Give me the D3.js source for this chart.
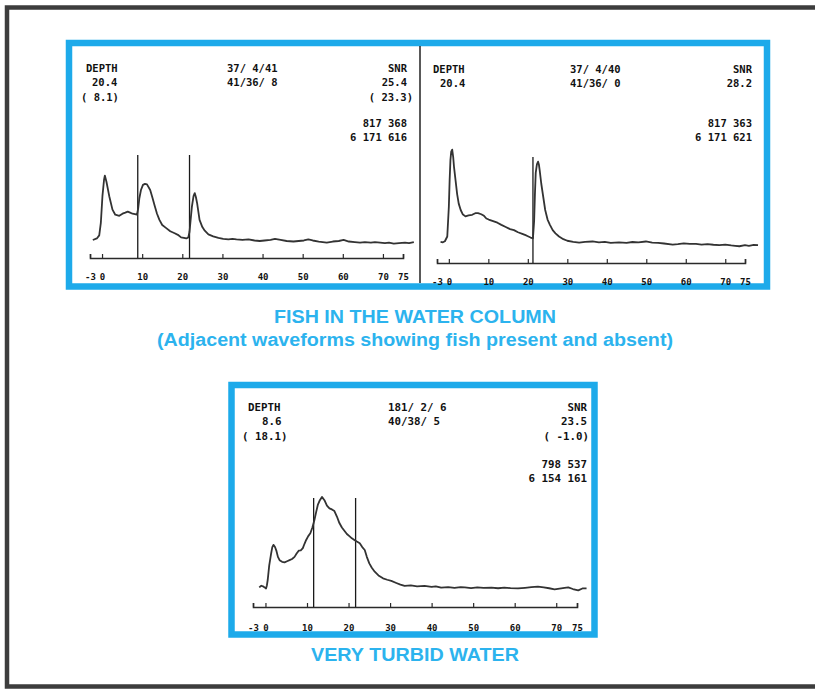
<!DOCTYPE html>
<html>
<head>
<meta charset="utf-8">
<script src="https://cdn.jsdelivr.net/npm/d3@7"></script>
<style>
  html, body { margin: 0; padding: 0; background: #fff; }
  svg { display: block; }
</style>
</head>
<body>
<div id="chart"></div>
<script>
// ---- data ----
// axis: range -3 .. 75, labelled ticks
const tickValues = [-3, 0, 10, 20, 30, 40, 50, 60, 70, 75];
const tickLabels = ["-3", "0", "10", "20", "30", "40", "50", "60", "70", "75"];

// waveform 1: fish present (x = range, v = echo amplitude)
const waveFishPresent = [
  [-2.3,17.5],[-1.3,19],[-0.7,22],[-0.3,34],[0.1,60],[0.5,76],[0.7,80],[1.1,74],[1.8,60],[2.6,47],
  [3.3,42],[4.3,41],[5.1,43],[5.8,44],[6.4,45],[7.0,44],[7.6,43],[8.2,42.5],[8.7,42],[9.0,48],
  [9.3,58],[9.7,66],[10.2,71],[10.7,72],[11.2,71.5],[12.0,66],[12.6,58],[13.1,51],[13.7,43],[14.3,37],
  [15.0,32],[16.0,29],[17.0,26],[18.1,24],[18.9,22.5],[19.7,20],[20.4,19.5],[21.0,19],[21.5,20],[21.8,25.5],
  [22.1,38],[22.4,50],[22.8,60],[23.1,63],[23.4,59],[23.7,53],[24.3,37],[25.0,30],[25.6,26.5],[26.5,23],
  [27.7,21],[29.0,19.5],[30.2,18.5],[31.5,18],[32.5,18.5],[33.5,18],[35,17.5],[36.5,18],[38,17],[39.3,16.5],
  [40.5,17],[42,17.5],[43.1,18.5],[44.5,17.5],[46,16.5],[47.7,16],[49,16.5],[50.3,17],[51.4,18],[52.5,17],
  [54,16],[55,15.5],[56,15],[57.5,16],[59,16.5],[60.2,17.5],[61.5,16],[63,15.5],[64.3,15],[65.5,15.5],
  [67,15],[68,15.5],[69.3,15],[70.5,14.5],[71.5,15],[72.7,14],[74,14.5],[75.5,15],[76.5,14.5],[77.7,15.5]
];

// waveform 2: fish absent
const waveFishAbsent = [
  [-2.1,20],[-1.5,19.5],[-1.0,20.5],[-0.4,25],[0,53],[0.2,78],[0.4,97],[0.6,105],[0.85,107],[1.1,100],
  [1.3,91],[1.7,78],[2.1,65],[2.5,56],[3.0,50],[3.5,46],[4.2,44],[5.0,45],[5.9,45.5],[6.7,47],
  [7.4,47],[8.2,46],[8.9,44.5],[9.5,42],[10.1,41],[11.2,39.5],[12.3,38],[13.3,36],[14.4,34],[15.5,32],
  [16.5,31],[17.5,29],[18.6,27.5],[19.6,26],[20.7,24],[21.3,23.3],[21.6,40],[21.8,65],[22.0,85],[22.3,93],
  [22.6,95.6],[22.8,93],[23.0,87.7],[23.4,75],[23.9,62.5],[24.4,50],[25.0,41],[25.6,36],[26.3,31],[27.0,28],
  [27.9,25],[29.0,22.5],[30.0,21],[31.5,20],[33.0,19.2],[34.5,20],[36.4,20.3],[38,19.5],[39.5,20],[41,19],
  [43.1,19.4],[45,19],[46.5,19.8],[48,19.5],[49.9,20.3],[51.5,19.3],[53,19],[54.5,18.4],[56.7,17.4],[58,17.8],
  [59.5,18.5],[61,18],[62.6,18],[64,17.3],[65.5,17.8],[67,17.2],[68.5,16.8],[70,17.4],[71.5,16.6],[72.5,16.2],
  [73.6,15.8],[75,16.8],[76,16.2],[77.2,17],[78.3,16.8]
];

// waveform 3: very turbid water
const waveTurbid = [
  [-1.5,18],[-1.0,19.5],[-0.6,19],[-0.2,18],[0.14,17],[0.35,20],[0.55,25],[0.9,38],[1.36,49],[1.65,55],
  [1.92,57],[2.3,55],[2.6,52],[3.0,46],[3.4,43],[4.0,41.5],[4.6,41],[5.2,42],[5.8,43],[6.4,44],
  [7.0,46],[7.5,49],[8.0,51.7],[8.5,52],[9.0,54],[9.4,58],[9.8,61.5],[10.3,65],[10.8,67.6],[11.3,73],
  [11.8,80],[12.2,87],[12.6,93.6],[13.1,98],[13.6,101],[14.2,98],[14.8,93],[15.4,90.5],[16.0,89.5],[16.6,88],
  [17.2,83],[17.8,77],[18.4,73],[19.0,70],[19.6,67],[20.2,65],[20.8,63],[21.4,61.5],[22.0,60],[22.7,58.4],
  [23.3,55],[23.9,52.3],[24.4,46],[25.0,40],[25.6,36],[26.3,32.4],[27.2,29],[28.3,26.3],[29.3,25],[30.3,23.9],
  [31.5,22],[32.5,20.5],[33.5,19.3],[35,19.8],[36.5,19],[38.3,19.3],[40,18.5],[41,19],[42.3,17.7],[44,18.2],
  [45.5,17.6],[47,18.3],[48,18],[49.5,17.4],[51,18],[52.5,17.5],[54.4,17.7],[56,17.2],[57.5,17.8],[59,17.3],
  [60.8,17],[62.5,17.6],[64,18.2],[65.6,18.7],[67,18],[68.3,17.2],[69.6,16.2],[70.8,16.8],[72,17.5],[72.9,18],
  [74,16.5],[75.3,15.3],[76.3,17],[77.3,17]
];

// range-gate markers (x positions)
const markersPresent = [8.9, 21.8];
const markersAbsent = [21.3];
const markersTurbid = [11.6, 21.7];

// header readouts: [left block, centre block, right block, right lower block]
const headerPresent = [["DEPTH", "20.4", "( 8.1)"], ["37/ 4/41", "41/36/ 8"], ["SNR", "25.4", "( 23.3)"], ["817 368", "6 171 616"]];
const headerAbsent  = [["DEPTH", "20.4"], ["37/ 4/40", "41/36/ 0"], ["SNR", "28.2"], ["817 363", "6 171 621"]];
const headerTurbid  = [["DEPTH", "8.6", "( 18.1)"], ["181/ 2/ 6", "40/38/ 5"], ["SNR", "23.5", "( -1.0)"], ["798 537", "6 154 161"]];

const captionTop = ["FISH IN THE WATER COLUMN", "(Adjacent waveforms showing fish present and absent)"];
const captionBottom = ["VERY TURBID WATER"];

// ---- drawing ----
const W = 815, H = 690;
const blue = "#1daaea";
const captionBlue = "#2cb3ee";
const ink = "#2a2a2a";
const mono = "'DejaVu Sans Mono', 'Liberation Mono', monospace";

const svg = d3.select("#chart").append("svg").attr("width", W).attr("height", H);

// outer dark frame (open on the right)
svg.append("path")
  .attr("d", "M815,7.5 H7 V686.5 H815")
  .attr("fill", "none")
  .attr("stroke", "#3d3d3d")
  .attr("stroke-width", 4.5);

// blue panel frames
svg.append("rect").attr("x", 69).attr("y", 43).attr("width", 698).attr("height", 243.5)
  .attr("fill", "none").attr("stroke", blue).attr("stroke-width", 6.5);
svg.append("rect").attr("x", 231.5).attr("y", 385).attr("width", 363).attr("height", 249.5)
  .attr("fill", "none").attr("stroke", blue).attr("stroke-width", 6.5);

// divider between the two top waveforms
svg.append("line").attr("x1", 420).attr("x2", 420).attr("y1", 46).attr("y2", 283)
  .attr("stroke", "#222").attr("stroke-width", 1.5);

// panel layout (pixel geometry only)
const panels = [
  { wave: waveFishPresent, markers: markersPresent, header: headerPresent,
    x0: 90, x1: 403, y0: 258, y1: 155, labelPad: 16,
    hLeft: [86, 92, 81], hCentre: 227, hRight: [407, 407, 413], hBase: [72, 86, 101], hLower: [127, 141], fs: 10.5 },
  { wave: waveFishAbsent, markers: markersAbsent, header: headerAbsent,
    x0: 437, x1: 745, y0: 263, y1: 157, labelPad: 16,
    hLeft: [433, 440], hCentre: 570, hRight: [752, 752], hBase: [73, 87], hLower: [127, 141], fs: 10.5 },
  { wave: waveTurbid, markers: markersTurbid, header: headerTurbid,
    x0: 253, x1: 577, y0: 607, y1: 498, labelPad: 18,
    hLeft: [248, 262, 242], hCentre: 388, hRight: [587, 587, 589], hBase: [411, 425, 440], hLower: [468, 482], fs: 10.8 }
];

panels.forEach((p) => {
  const x = d3.scaleLinear().domain([-3, 75]).range([p.x0, p.x1]);
  const y = d3.scaleLinear().domain([0, 100]).range([p.y0, p.y1]);
  const g = svg.append("g");

  // axis with upward ticks
  const axis = d3.axisBottom(x)
    .tickValues(tickValues)
    .tickFormat((d, i) => tickLabels[i])
    .tickSizeInner(-4)
    .tickSizeOuter(-4)
    .tickPadding(p.labelPad);
  const ax = g.append("g").attr("transform", `translate(0,${p.y0})`).call(axis);
  ax.select(".domain").attr("stroke", ink).attr("stroke-width", 1.6);
  ax.selectAll(".tick line").attr("stroke", ink).attr("stroke-width", 1.2);
  ax.selectAll(".tick text")
    .attr("fill", "#111")
    .style("font-family", mono)
    .style("font-weight", "bold")
    .style("font-size", "9px");

  // range-gate markers
  g.selectAll(".marker")
    .data(p.markers)
    .join("line")
    .attr("class", "marker")
    .attr("x1", (d) => x(d)).attr("x2", (d) => x(d))
    .attr("y1", y(100)).attr("y2", y(0))
    .attr("stroke", "#1a1a1a")
    .attr("stroke-width", 1.3);

  // waveform
  const line = d3.line().x((d) => x(d[0])).y((d) => y(d[1]));
  g.append("path")
    .datum(p.wave)
    .attr("d", line)
    .attr("fill", "none")
    .attr("stroke", "#333")
    .attr("stroke-width", 1.8)
    .attr("stroke-linejoin", "round");

  // header readouts
  const txt = (tx, ty, s, anchor) => g.append("text")
    .attr("x", tx).attr("y", ty)
    .attr("text-anchor", anchor)
    .attr("fill", "#111")
    .style("font-family", mono)
    .style("font-weight", "bold")
    .style("font-size", p.fs + "px")
    .text(s);

  p.header[0].forEach((s, i) => txt(p.hLeft[i], p.hBase[i], s, "start"));
  p.header[1].forEach((s, i) => txt(p.hCentre, p.hBase[i], s, "start"));
  p.header[2].forEach((s, i) => txt(p.hRight[i], p.hBase[i], s, "end"));
  p.header[3].forEach((s, i) => txt(p.hRight[0], p.hLower[i], s, "end"));
});

// captions
const cap = (s, ty, len) => svg.append("text")
  .attr("x", 415).attr("y", ty)
  .attr("text-anchor", "middle")
  .attr("fill", captionBlue)
  .attr("textLength", len)
  .attr("lengthAdjust", "spacingAndGlyphs")
  .style("font-family", "'Liberation Sans', Arial, sans-serif")
  .style("font-weight", "bold")
  .style("font-size", "18px")
  .text(s);

cap(captionTop[0], 323, 282);
cap(captionTop[1], 346, 516);
cap(captionBottom[0], 661, 208);
</script>
</body>
</html>
